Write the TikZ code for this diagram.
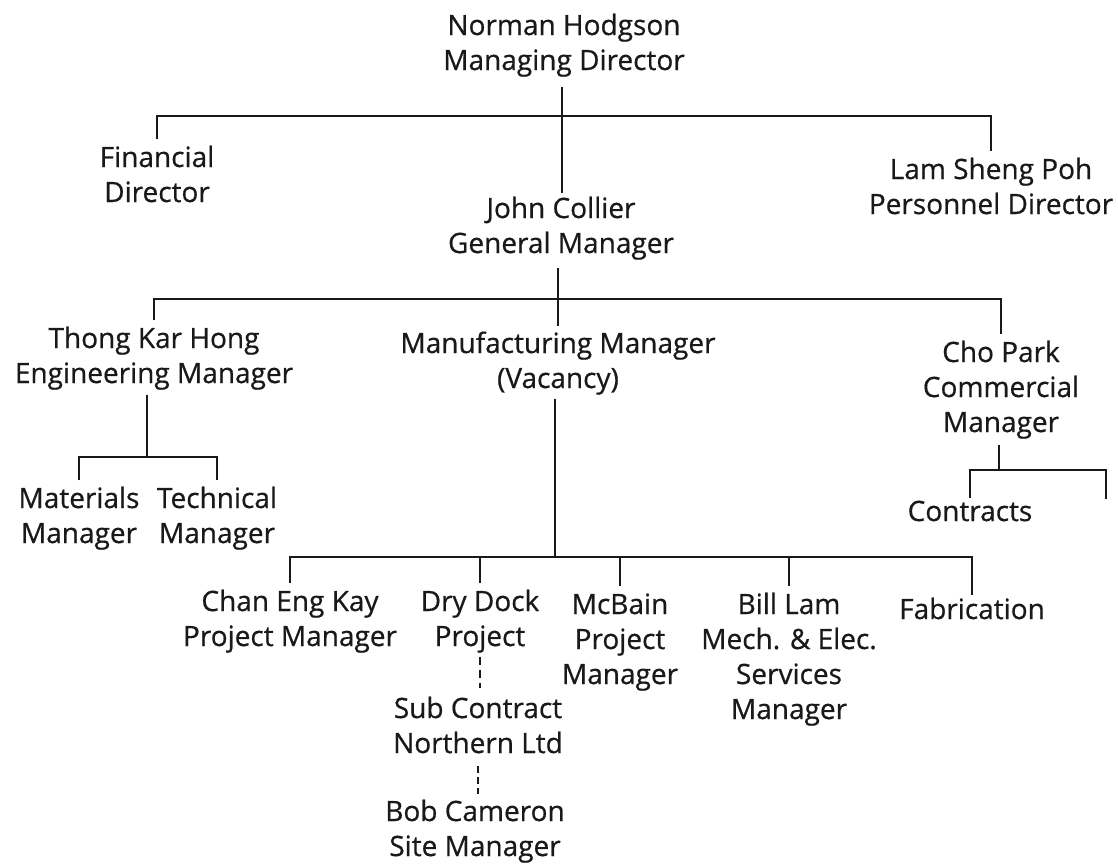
\documentclass[tikz,border=0pt]{standalone}
\usepackage{fontspec}
\setmainfont{Open Sans}[FakeBold=0.6]
\newcommand{\tb}[1]{\begin{tabular}[t]{@{}c@{}}#1\end{tabular}}
\begin{document}
\begin{tikzpicture}[x=1pt,y=1pt,
  lbl/.style={inner sep=0pt, anchor=base, text=black!90, font=\fontsize{28}{35}\selectfont},
  ln/.style={line width=2.2pt, line join=miter, draw=black!90},
  edge/.style={ln, shorten <=3pt, shorten >=3pt},
  dl/.style={line width=2pt, draw=black!90, dash pattern=on 8pt off 5pt}]
\useasboundingbox[fill=white] (0,0) rectangle (1118,-863);
% nodes
\node[lbl] (md)   at (564,-35)  {\tb{Norman Hodgson\\Managing Director}};
\node[lbl] (fd)   at (157,-167) {\tb{Financial\\Director}};
\node[lbl] (pd)   at (991,-179) {\tb{Lam Sheng Poh\\Personnel Director}};
\node[lbl] (gm)   at (561,-218) {\tb{John Collier\\General Manager}};
\node[lbl] (em)   at (154,-348) {\tb{Thong Kar Hong\\Engineering Manager}};
\node[lbl] (mm)   at (558,-353) {\tb{Manufacturing Manager\\(Vacancy)}};
\node[lbl] (cp)   at (1001,-362) {\tb{Cho Park\\Commercial\\Manager}};
\node[lbl] (mat)  at (79,-508)  {\tb{Materials\\Manager}};
\node[lbl] (tec)  at (217,-508) {\tb{Technical\\Manager}};
\node[lbl] (con)  at (970,-521) {Contracts};
\node[lbl] (chan) at (290,-611) {\tb{Chan Eng Kay\\Project Manager}};
\node[lbl] (dry)  at (480,-611) {\tb{Dry Dock\\Project}};
\node[lbl] (mcb)  at (620,-614) {\tb{McBain\\Project\\Manager}};
\node[lbl] (bill) at (789,-614) {\tb{Bill Lam\\Mech. \& Elec.\\Services\\Manager}};
\node[lbl] (fab)  at (972,-619) {Fabrication};
\node[lbl] (sub)  at (478,-718) {\tb{Sub Contract\\Northern Ltd}};
\node[lbl] (bob)  at (475,-821) {\tb{Bob Cameron\\Site Manager}};
% junctions
\coordinate (j1) at (562,-116);
\coordinate (j2) at (558,-299);
\coordinate (j3) at (147,-457);
\coordinate (j4) at (999,-470);
\coordinate (j5) at (555,-557);
\coordinate (c2) at (1106,-502);
% level 1
\draw[ln, shorten <=6pt] (md.south -| j1) -- (gm.north -| j1);
\draw[edge] (fd.north) |- (j1) -| (pd.north);
% level 2
\draw[ln, shorten <=4pt] (gm.south -| j2) -- (j2);
\draw[edge] (em.north) |- (j2) -| (cp.north);
\draw[ln, shorten >=2pt] (j2) -- (mm.north -| j2);
% engineering
\draw[ln, shorten <=1pt] (em.south -| j3) -- (j3);
\draw[edge] (mat.north) |- (j3) -| (tec.north);
% commercial
\draw[ln, shorten <=2pt] (cp.south -| j4) -- (j4);
\draw[edge] (con.north) |- (j4) -| (c2);
% manufacturing
\draw[ln] (mm.south -| j5) -- (j5);
\draw[edge] (chan.north) |- (j5) -| (fab.north);
\draw[ln, shorten >=3pt] (dry.north |- j5) -- (dry.north);
\draw[ln, shorten >=3pt] (mcb.north |- j5) -- (mcb.north);
\draw[ln, shorten >=3pt] (bill.north |- j5) -- (bill.north);
% dashed
\draw[dl, shorten >=5pt] (dry.south) -- (dry.south |- sub.north);
\draw[dl, dash pattern=on 7pt off 4pt, shorten <=2pt, shorten >=2pt] (sub.south) -- (sub.south |- bob.north);
\end{tikzpicture}
\end{document}
